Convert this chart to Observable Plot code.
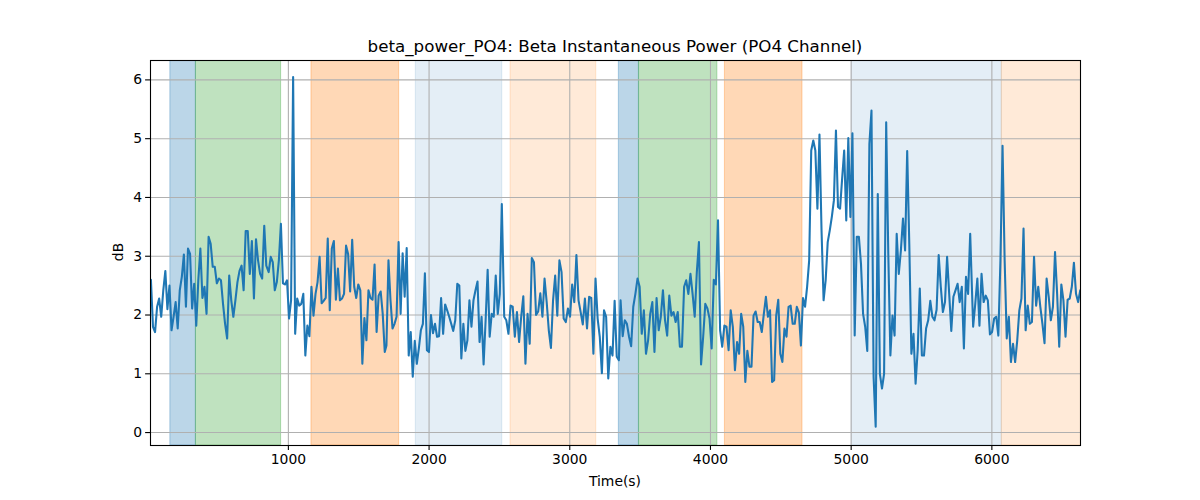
<!DOCTYPE html>
<html><head><meta charset="utf-8">
<script src="https://cdn.jsdelivr.net/npm/d3@7"></script>
<script src="https://cdn.jsdelivr.net/npm/@observablehq/plot@0.6"></script>
<style>body{margin:0;background:#fff} #chart{width:1200px;height:500px}</style>
</head><body><div id="chart"></div>
<script>
// Beta instantaneous power, read in 8 stretches (start/end time of each stretch in s)
const segStart = [23, 860, 1697, 2534, 3361, 4189, 5025, 5867];
const segEnd   = [843, 1685, 2517, 3349, 4174, 5009, 5846, 6628];
const seg1 = [2.60,1.80,1.71,2.14,2.28,1.97,2.42,2.75,2.10,2.50,1.74,1.97,2.22,1.77,2.42,2.65,3.03,2.14,3.13,3.04,2.11,2.53,1.82,2.59,3.13,2.29,2.48,2.02,3.33,3.21,2.82,2.82,2.54,2.62,2.59,2.19,1.85,1.60,2.67,2.25,1.97,2.25,2.56,2.75,2.84,2.42,3.43,3.43,2.70,3.26,2.28,3.29,2.93,2.70,2.62,3.52,2.84];
const seg2 = [2.73,2.99,2.90,2.42,2.56,2.93,3.55,2.54,2.52,2.59,1.94,2.25,6.05,1.68,2.28,2.16,2.19,2.36,1.31,1.82,1.64,2.48,1.99,2.36,2.56,2.99,2.20,2.24,2.29,3.30,2.08,3.13,3.26,2.26,2.79,2.25,2.28,2.36,3.18,3.04,2.40,3.28,2.48,2.29,2.52,2.42,1.17,1.95,1.57,2.42,2.29,2.26,2.86,1.71,2.33,2.40,2.02,1.37];
const seg3 = [1.48,2.93,2.25,1.77,1.85,1.97,3.24,2.02,3.05,2.31,3.14,1.31,1.71,0.95,1.56,1.17,1.43,1.74,1.85,2.71,1.40,1.37,2.00,1.69,1.85,1.63,1.64,2.29,1.68,2.18,2.08,1.97,1.85,1.73,1.91,2.53,2.50,1.26,1.85,1.39,1.57,2.25,1.80,2.25,2.42,2.57,1.54,1.97,1.16,1.91,2.77,1.63,2.02,1.97,2.67,2.02,2.36,3.89];
const seg4 = [1.97,1.91,1.68,2.16,2.14,1.63,2.05,1.54,1.97,2.32,1.17,2.02,1.51,2.97,2.90,2.00,2.06,2.37,1.97,2.62,2.22,1.74,1.44,2.25,2.67,1.99,2.93,2.73,1.94,1.88,2.11,1.97,2.52,2.22,3.02,2.25,2.05,1.84,2.28,1.77,2.31,2.29,1.34,2.62,1.94,1.63,1.01,2.08,1.97,0.92,1.46,1.31,2.24,1.29,1.23];
const seg5 = [2.25,1.64,1.91,1.85,1.63,1.47,2.14,2.36,2.62,2.48,1.68,2.08,1.34,1.57,2.02,2.22,1.37,2.29,1.74,1.97,2.42,1.91,1.65,2.33,1.99,2.05,1.88,2.05,1.46,1.46,2.48,2.59,2.36,2.70,2.36,1.97,2.73,3.24,1.16,1.63,2.19,2.11,1.94,1.43,2.60,2.52,3.61,1.74,1.46,1.82,1.80,1.40,2.08,1.80,1.06];
const seg6 = [1.54,1.34,2.02,1.80,0.86,1.39,1.12,1.12,1.99,2.06,1.88,1.88,1.71,2.02,2.31,1.97,2.08,0.86,0.89,1.99,2.26,1.34,1.20,1.77,1.63,2.14,2.16,1.85,1.85,2.14,2.04,1.48,2.29,2.14,2.48,2.93,4.80,4.97,4.80,3.81,5.07,3.44,2.25,2.59,3.24,3.44,3.67,3.95,5.14,3.84,3.81,4.32,4.80,3.61,5.01,3.67,5.09];
const seg7 = [1.65,3.33,3.33,2.87,2.02,1.80,1.39,4.91,5.48,0.95,0.10,4.06,1.00,0.75,1.00,5.28,3.04,1.31,1.99,1.65,3.38,2.70,3.10,3.64,3.10,4.79,3.21,1.34,1.68,0.83,1.40,2.45,1.31,1.31,1.77,1.91,2.24,1.97,1.91,2.09,3.02,2.48,2.05,2.22,2.99,2.36,1.73,2.31,2.42,2.53,2.22,2.48,1.43,2.65,2.36,3.38];
const seg8 = [1.80,2.19,2.62,1.82,2.70,2.22,2.33,2.25,1.67,1.71,1.94,1.97,1.65,2.93,4.88,2.93,1.60,1.97,1.20,1.51,1.20,1.57,2.08,2.28,3.47,1.74,2.16,1.85,1.88,2.99,2.16,2.48,2.14,1.85,1.52,2.62,2.31,1.91,2.14,3.07,2.36,1.46,2.52,2.25,1.63,2.26,2.28,2.48,2.89,2.36,2.22,2.42];

// Shaded phases
const spanStart = [161, 343, 1164, 1906, 2579, 3349, 3492, 4103, 5004, 6071];
const spanEnd   = [343, 948, 1787, 2520, 3188, 3492, 4049, 4654, 6071, 6700];
const spanColor = ["#1f77b4","#2ca02c","#ff7f0e","#1f77b4","#ff7f0e","#1f77b4","#2ca02c","#ff7f0e","#1f77b4","#ff7f0e"];
const spanAlpha = [0.3, 0.3, 0.3, 0.12, 0.16, 0.3, 0.3, 0.3, 0.12, 0.16];

const xTicks = [1000, 2000, 3000, 4000, 5000, 6000];
const yTicks = [0, 1, 2, 3, 4, 5, 6];

const segs = [seg1, seg2, seg3, seg4, seg5, seg6, seg7, seg8];
const data = segs.flatMap((vals, k) => vals.map((v, i) => ({
  t: segStart[k] + (segEnd[k] - segStart[k]) * i / (vals.length - 1), v
})));
const spans = spanStart.map((s, i) => {
  const c = d3.color(spanColor[i]); c.opacity = spanAlpha[i];
  return {start: s, end: spanEnd[i], col: c.formatRgb()};
});

const chart = Plot.plot({
  width: 1200, height: 500,
  marginLeft: 150, marginRight: 120, marginTop: 60, marginBottom: 55,
  style: {fontFamily: "DejaVu Sans", fontSize: "13.9px", background: "#fff", color: "#000"},
  x: {domain: [20, 6630], label: null},
  y: {domain: [-0.22, 6.33], label: null},
  marks: [
    Plot.rect(spans, {x1: "start", x2: "end", fill: "col", stroke: "col", strokeWidth: 1.1, clip: true}),
    Plot.gridX(xTicks, {stroke: "#b0b0b0", strokeOpacity: 1, strokeWidth: 1.1}),
    Plot.gridY(yTicks, {stroke: "#b0b0b0", strokeOpacity: 1, strokeWidth: 1.1}),
    Plot.line(data, {x: "t", y: "v", stroke: "#1f77b4", strokeWidth: 2.08, clip: true}),
    Plot.frame({stroke: "#000", strokeWidth: 1.1}),
    Plot.axisX(xTicks, {tickSize: 4.9, tickPadding: 3.5, tickFormat: d => String(d), label: null, stroke: "#000", strokeWidth: 1.1}),
    Plot.axisY(yTicks, {tickSize: 4.9, tickPadding: 3.5, tickFormat: d => String(d), label: null, stroke: "#000", strokeWidth: 1.1})
  ]
});
document.getElementById("chart").appendChild(chart);

const svg = d3.select(chart);
svg.append("text").attr("x", 615).attr("y", 52).attr("text-anchor", "middle")
  .attr("font-size", "16.7px").attr("fill", "#000")
  .text("beta_power_PO4: Beta Instantaneous Power (PO4 Channel)");
svg.append("text").attr("x", 615).attr("y", 486).attr("text-anchor", "middle")
  .attr("font-size", "13.9px").attr("fill", "#000").text("Time(s)");
svg.append("text").attr("transform", "translate(123,252) rotate(-90)").attr("text-anchor", "middle")
  .attr("font-size", "13.9px").attr("fill", "#000").text("dB");
</script></body></html>
